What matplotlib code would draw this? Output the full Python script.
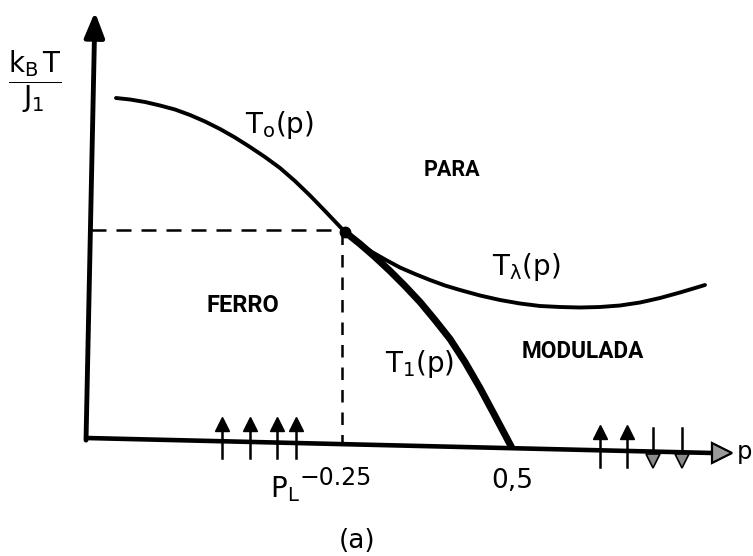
import matplotlib
matplotlib.use("Agg")
import matplotlib.pyplot as plt

# Phase diagram (schematic): reduced temperature k_B T / J_1 versus p
# Multicritical (Lifshitz) point
p_L = 0.25
T_L = 1.0

# T_0(p): ferro-para boundary up to the Lifshitz point
t0_p = [-0.0928, -0.0719, -0.0494, -0.0269, -0.0045, 0.0180, 0.0404, 0.0629,
        0.0853, 0.1078, 0.1302, 0.1527, 0.1751, 0.1976, 0.2201, 0.25]
t0_T = [1.6291, 1.6221, 1.6103, 1.5939, 1.5751, 1.5493, 1.5188, 1.4836,
        1.4437, 1.3991, 1.3521, 1.3005, 1.2394, 1.1714, 1.0986, 1.0]

# T_1(p): ferro-modulated boundary (first order, thick)
t1_p = [0.25, 0.2725, 0.2949, 0.3174, 0.3398, 0.3623, 0.3847, 0.4072,
        0.4296, 0.4521, 0.4746, 0.5]
t1_T = [1.0, 0.9437, 0.8826, 0.8169, 0.7465, 0.6714, 0.5869, 0.4977,
        0.3897, 0.2676, 0.1362, -0.0141]

# T_lambda(p): modulated-para boundary
tl_p = [0.25, 0.2695, 0.2904, 0.3114, 0.3323, 0.3548, 0.3772, 0.3997, 0.4222,
        0.4521, 0.4820, 0.5120, 0.5419, 0.5719, 0.6018, 0.6317, 0.6617, 0.6916,
        0.7216, 0.7515, 0.7740, 0.7889]
tl_T = [1.0, 0.9507, 0.9061, 0.8685, 0.8333, 0.8028, 0.7746, 0.7488, 0.7277,
        0.7019, 0.6808, 0.6643, 0.6526, 0.6479, 0.6455, 0.6479, 0.6549, 0.6690,
        0.6901, 0.7160, 0.7371, 0.7512]

# Axes (hand-drawn, slightly tilted)
xaxis_p = [-0.1377, 0.8009]
xaxis_T = [0.0329, -0.0376]
yaxis_p = [-0.1377, -0.1243]
yaxis_T = [0.023, 2.033]

# Spin configurations along the p axis (+1 up, -1 down)
ferro_spin_p = [0.0659, 0.1078, 0.1482, 0.1766]
ferro_spin_dir = [1, 1, 1, 1]
mod_spin_p = [0.6317, 0.6722, 0.7111, 0.7545]
mod_spin_dir = [1, 1, -1, -1]

# Tick annotations
tick_half = 0.5
tick_half_label = "0,5"
tick_L_label = "\u22120.25"

fig = plt.figure(figsize=(7.53, 5.56), dpi=100)
ax = fig.add_axes([0, 0, 1, 1])
ax.set_xlim(-0.26647, 0.86078)
ax.set_ylim(-0.52113, 2.08920)
ax.axis("off")

ink = "black"

# axes
ax.plot(xaxis_p, xaxis_T, color=ink, lw=3.3, solid_capstyle="butt")
ax.plot([0.8144], [-0.0376], marker=">", markersize=14, mfc="#9a9a9a",
        mec=ink, mew=1.6, ls="none")
ax.annotate("", xy=(yaxis_p[1], yaxis_T[1]), xytext=(yaxis_p[0], yaxis_T[0]),
            arrowprops=dict(arrowstyle="-|>,head_length=0.75,head_width=0.3",
                            lw=3.5, color=ink, mutation_scale=20,
                            shrinkA=0, shrinkB=0))

# dashed guides to the Lifshitz point
ax.plot([yaxis_p[0] + 0.007, p_L], [T_L + 0.01, T_L + 0.01], color=ink, lw=1.8,
        dashes=(6, 4))
ax.plot([p_L - 0.004, p_L - 0.004], [T_L, 0.005], color=ink, lw=1.8,
        dashes=(5, 4))

# phase boundaries
ax.plot(t0_p, t0_T, color=ink, lw=2.8, solid_capstyle="round", solid_joinstyle="round")
ax.plot(tl_p, tl_T, color=ink, lw=2.8, solid_capstyle="round", solid_joinstyle="round")
ax.plot(t1_p, t1_T, color=ink, lw=5.0, solid_capstyle="butt", solid_joinstyle="round")
ax.plot([p_L], [T_L], marker="o", markersize=7.5, color=ink)

# spins
def draw_spins(ps, dirs, base, up_len, down_len, head_up, head_down):
    for p, d in zip(ps, dirs):
        ax.plot([p, p], [base - down_len, base + up_len], color=ink, lw=1.8)
        if d > 0:
            ax.plot([p], [base + head_up], marker="^", markersize=9.5,
                    color=ink, ls="none")
        else:
            ax.plot([p], [base - head_down], marker="v", markersize=10,
                    mfc="#8a8a8a", mec=ink, mew=1.2, ls="none")

draw_spins(ferro_spin_p, ferro_spin_dir, 0.01, 0.085, 0.07, 0.09, 0.0)
draw_spins(mod_spin_p[:2], mod_spin_dir[:2], -0.03, 0.10, 0.075, 0.09, 0.0)
draw_spins(mod_spin_p[2:], mod_spin_dir[2:], -0.03, 0.11, 0.0, 0.0, 0.045)

# curve labels
lab = dict(fontsize=20, color=ink, family="DejaVu Sans", va="baseline", ha="left")
ax.text(0.1003, 1.465, r"$\mathrm{T_o(p)}$", **lab)
ax.text(0.470, 0.798, r"$\mathrm{T_\lambda(p)}$", **lab)
ax.text(0.310, 0.343, r"$\mathrm{T_1(p)}$", **lab)

# phase names
ph = dict(color=ink, family="Roboto", weight="bold", ha="center", va="center")
ax.text(0.0973, 0.653, "FERRO", fontsize=17, **ph)
ax.text(0.410, 1.291, "PARA", fontsize=15.5, **ph)
ax.text(0.606, 0.437, "MODULADA", fontsize=16.3, **ph)

# axis annotations
ax.text(0.8368, -0.066, "p", fontsize=17.5, color=ink, ha="left", va="baseline")
ax.text(tick_half, -0.202, tick_half_label, fontsize=19, color=ink,
        ha="center", va="baseline")
ax.text(0.1377, -0.244, r"$\mathrm{P_L}$", fontsize=20, color=ink,
        ha="left", va="baseline")
ax.text(0.182, -0.186, tick_L_label, fontsize=17, color=ink,
        ha="left", va="baseline")
ax.text(0.268, -0.451, "(a)", fontsize=19, color=ink, ha="center", va="center")

# y-axis quantity
ax.text(-0.2136, 1.704, r"$\dfrac{\mathrm{k_B\,T}}{\mathrm{J_1}}$", fontsize=20,
        color=ink, ha="center", va="center")

fig.savefig("out.png", dpi=100)
